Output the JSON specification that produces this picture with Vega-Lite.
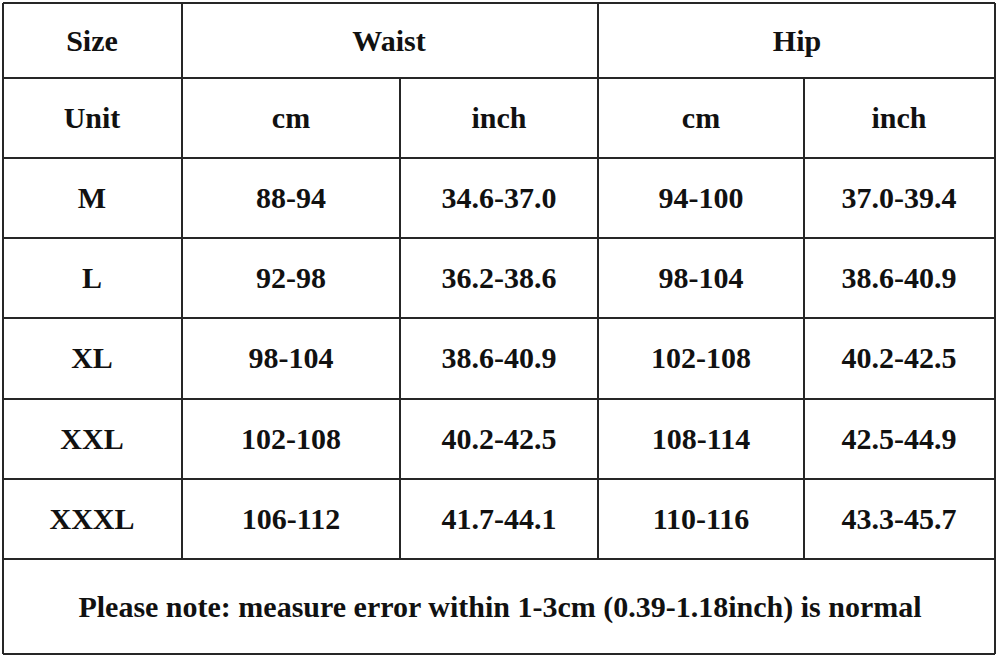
{
  "$schema": "https://vega.github.io/schema/vega-lite/v6.json",
  "width": 1000,
  "height": 658,
  "autosize": {"type": "fit", "contains": "padding"},
  "padding": 0,
  "background": "white",
  "config": {"view": {"stroke": null}},
  "datasets": {
    "lines": [
      {"x": 3, "x2": 3, "y": 3, "y2": 654},
      {"x": 995, "x2": 995, "y": 3, "y2": 654},
      {"x": 182, "x2": 182, "y": 3, "y2": 559},
      {"x": 598, "x2": 598, "y": 3, "y2": 559},
      {"x": 400, "x2": 400, "y": 78, "y2": 559},
      {"x": 804, "x2": 804, "y": 78, "y2": 559},
      {"x": 3, "x2": 995, "y": 3, "y2": 3},
      {"x": 3, "x2": 995, "y": 78, "y2": 78},
      {"x": 3, "x2": 995, "y": 158, "y2": 158},
      {"x": 3, "x2": 995, "y": 238, "y2": 238},
      {"x": 3, "x2": 995, "y": 318, "y2": 318},
      {"x": 3, "x2": 995, "y": 399, "y2": 399},
      {"x": 3, "x2": 995, "y": 479, "y2": 479},
      {"x": 3, "x2": 995, "y": 559, "y2": 559},
      {"x": 3, "x2": 995, "y": 654, "y2": 654}
    ],
    "cells": [
      {"t": "Size", "x": 92, "y": 42},
      {"t": "Waist", "x": 389, "y": 42},
      {"t": "Hip", "x": 797, "y": 42},
      {"t": "Unit", "x": 92, "y": 119},
      {"t": "cm", "x": 291, "y": 119},
      {"t": "inch", "x": 499, "y": 119},
      {"t": "cm", "x": 701, "y": 119},
      {"t": "inch", "x": 899, "y": 119},
      {"t": "M", "x": 92, "y": 199},
      {"t": "88-94", "x": 291, "y": 199},
      {"t": "34.6-37.0", "x": 499, "y": 199},
      {"t": "94-100", "x": 701, "y": 199},
      {"t": "37.0-39.4", "x": 899, "y": 199},
      {"t": "L", "x": 92, "y": 279},
      {"t": "92-98", "x": 291, "y": 279},
      {"t": "36.2-38.6", "x": 499, "y": 279},
      {"t": "98-104", "x": 701, "y": 279},
      {"t": "38.6-40.9", "x": 899, "y": 279},
      {"t": "XL", "x": 92, "y": 359},
      {"t": "98-104", "x": 291, "y": 359},
      {"t": "38.6-40.9", "x": 499, "y": 359},
      {"t": "102-108", "x": 701, "y": 359},
      {"t": "40.2-42.5", "x": 899, "y": 359},
      {"t": "XXL", "x": 92, "y": 440},
      {"t": "102-108", "x": 291, "y": 440},
      {"t": "40.2-42.5", "x": 499, "y": 440},
      {"t": "108-114", "x": 701, "y": 440},
      {"t": "42.5-44.9", "x": 899, "y": 440},
      {"t": "XXXL", "x": 92, "y": 520},
      {"t": "106-112", "x": 291, "y": 520},
      {"t": "41.7-44.1", "x": 499, "y": 520},
      {"t": "110-116", "x": 701, "y": 520},
      {"t": "43.3-45.7", "x": 899, "y": 520},
      {"t": "Please note: measure error within 1-3cm (0.39-1.18inch) is normal", "x": 500, "y": 608}
    ]
  },
  "layer": [
    {
      "data": {"name": "lines"},
      "mark": {"type": "rule", "stroke": "#262626", "strokeWidth": 2},
      "encoding": {
        "x": {"field": "x", "type": "quantitative", "scale": {"domain": [0, 1000], "nice": false, "zero": false}, "axis": null},
        "x2": {"field": "x2"},
        "y": {"field": "y", "type": "quantitative", "scale": {"domain": [0, 658], "nice": false, "zero": false, "reverse": true}, "axis": null},
        "y2": {"field": "y2"}
      }
    },
    {
      "data": {"name": "cells"},
      "mark": {"type": "text", "font": "Liberation Serif", "fontWeight": "bold", "fontSize": 30, "color": "#111111", "align": "center", "baseline": "middle"},
      "encoding": {
        "x": {"field": "x", "type": "quantitative", "axis": null},
        "y": {"field": "y", "type": "quantitative", "axis": null},
        "text": {"field": "t", "type": "nominal"}
      }
    }
  ]
}
